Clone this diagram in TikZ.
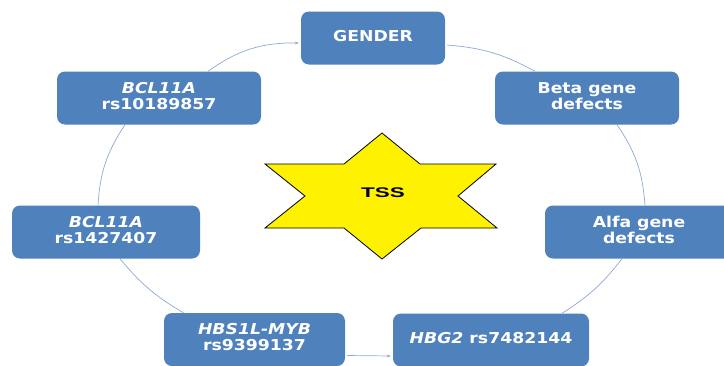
\documentclass[tikz,border=0pt]{standalone}
\usepackage{fontspec}
\usepackage{graphicx}
\setmainfont{DejaVu Sans}
\newfontfamily\starfont{Liberation Sans}
\usetikzlibrary{arrows.meta}
\definecolor{boxblue}{RGB}{79,129,189}
\definecolor{linkblue}{RGB}{140,170,215}
\newcommand\widen[1]{\scalebox{1.15}[1]{\begin{tabular}{@{}c@{}}#1\end{tabular}}}

\begin{document}
\begin{tikzpicture}[x=1pt, y=-1pt,
        box/.style={fill=boxblue, rounded corners=8pt, text=white, inner sep=0pt,
            font=\bfseries\fontsize{15}{15.5}\selectfont, minimum height=53pt},
        link/.style={draw=linkblue, line width=0.7pt},
        arrow/.style={link, -{Stealth[length=4pt, width=3pt]}}
    ]

    \fill[white] (0,0) rectangle (724,365);
    \useasboundingbox (0,0) rectangle (724,365);

    % star in the middle
    \draw[fill=yellow, draw=black, line width=0.8pt, line join=miter]
        (382,133) -- (420,164) -- (496,164) -- (458,196) -- (497,228) -- (421,228) --
        (382,259) -- (344,228) -- (265,228) -- (305,196) -- (265,164) -- (344,164) -- cycle;
    \node (tss) at (383,193) {\starfont\bfseries\fontsize{14}{14}\selectfont\scalebox{1.6}[1]{TSS}};

    \node (gender) [box, minimum width=144pt] at (373,38) {\widen{GENDER}};
    \node (bclA) [box, minimum width=204pt] at (159,98) {\widen{\textit{BCL11A}\\rs10189857}};
    \node (beta) [box, minimum width=184pt] at (587,98) {\widen{Beta gene\\defects}};
    \node (alfa) [box, minimum width=188pt] at (639,232) {\widen{Alfa gene\\defects}};
    \node (hbg) [box, minimum width=196pt] at (491,340) {\widen{\textit{HBG2} rs7482144}};
    \node (hbsl) [box, minimum width=181pt] at (254.5,339.5) {\widen{\textit{HBS1L-MYB}\\rs9399137}};
    \node (bclB) [box, minimum width=188pt] at (106,232) {\widen{\textit{BCL11A}\\rs1427407}};

    \draw [arrow] ([xshift=49pt]bclA.north) to[bend left=18] ([yshift=-5pt, xshift=-2pt]gender.west);
    \draw [link] ([yshift=-7pt, xshift=2pt]gender.east) to[bend left=12] ([xshift=-52pt]beta.north);
    \draw [link] ([xshift=30pt]beta.south) to[bend left=15] ([xshift=6pt]alfa.north);
    \draw [link] ([xshift=-17pt]alfa.south) to[bend left=10] ([xshift=71pt]hbg.north);
    \draw [arrow] ([yshift=-16pt, xshift=2pt]hbsl.east) -- ([yshift=-16pt, xshift=-2pt]hbg.west);
    \draw [link] ([xshift=14pt]bclB.south) to[bend right=10] ([xshift=-71pt]hbsl.north);
    \draw [link] ([xshift=-8pt]bclB.north) to[bend left=15] ([xshift=-34pt]bclA.south);

\end{tikzpicture}
\end{document}
